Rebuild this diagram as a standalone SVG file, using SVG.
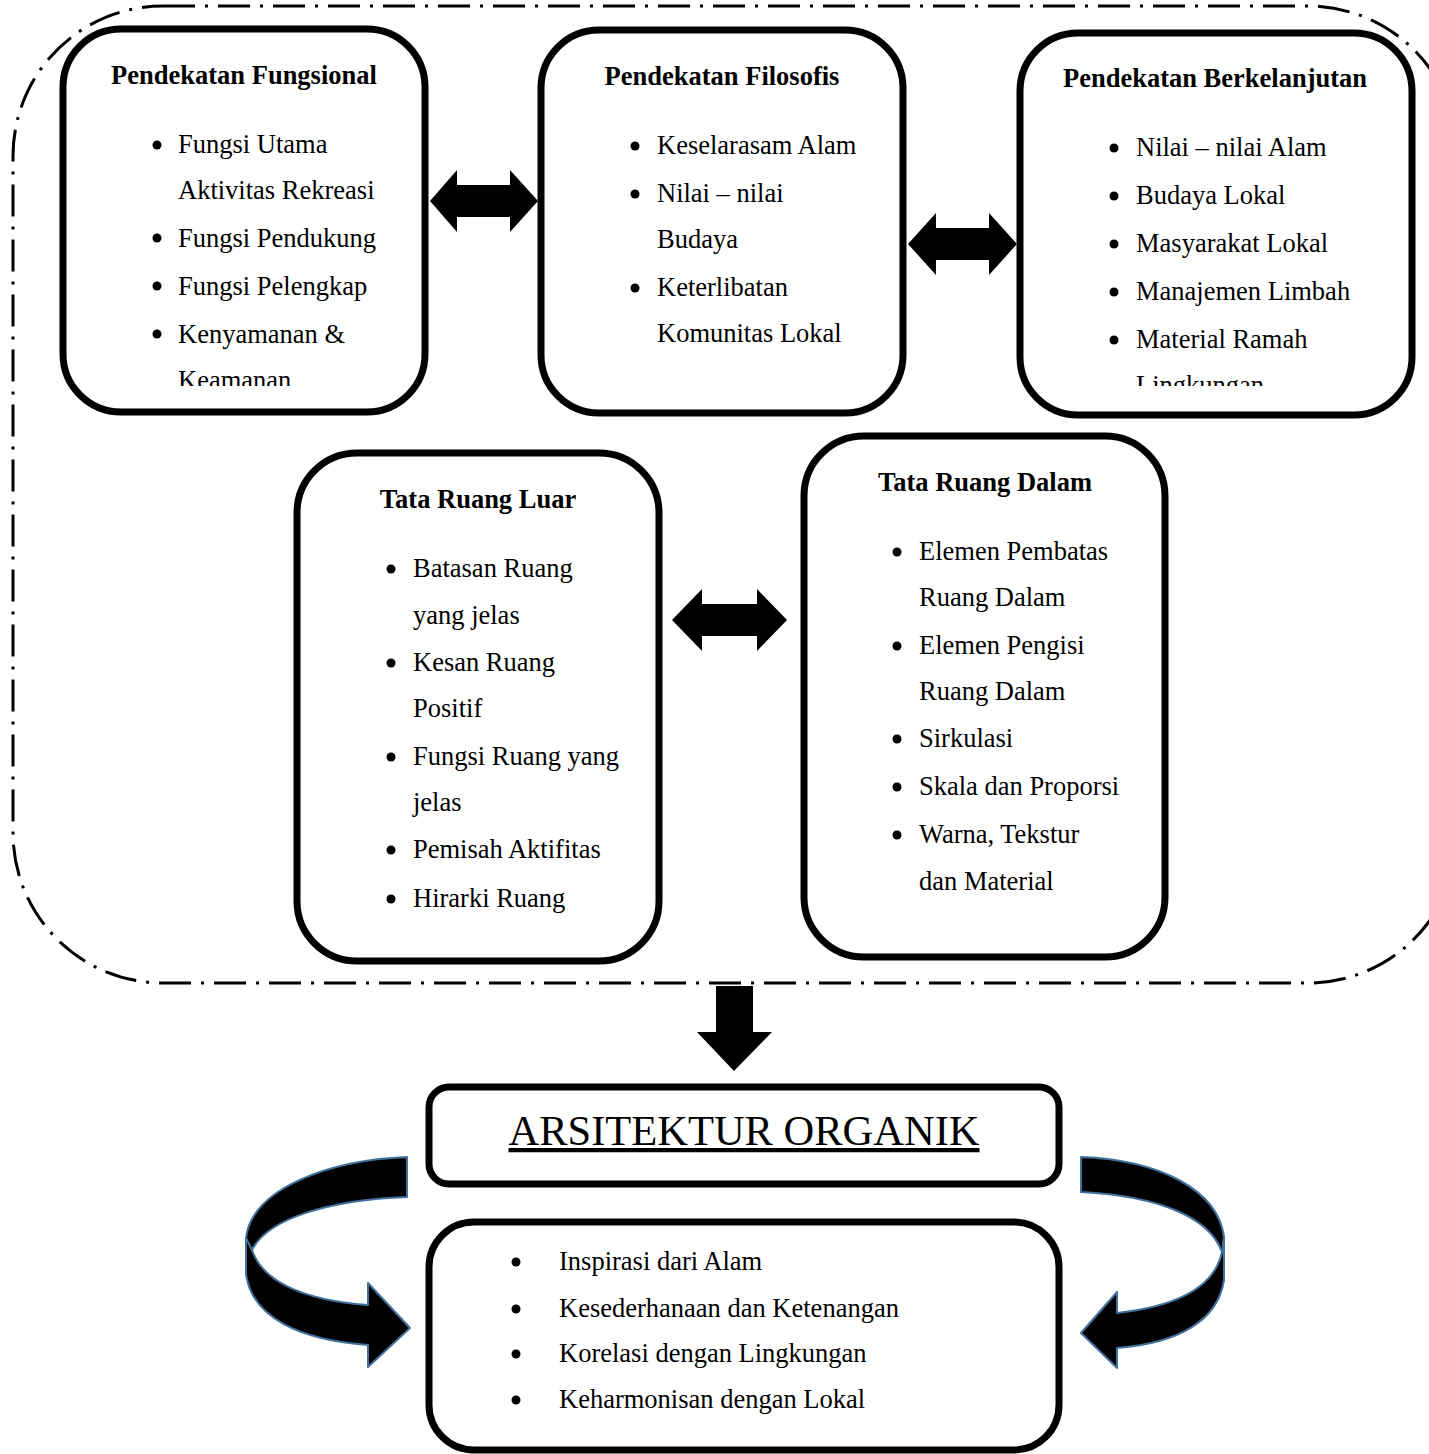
<svg xmlns="http://www.w3.org/2000/svg" width="1429" height="1454" viewBox="0 0 1429 1454">
<style>
.box{fill:#fff;stroke:#000;stroke-width:7}
.t{font-family:"Liberation Serif","Times New Roman",serif;font-size:26.5px;fill:#000}
.b{font-weight:bold;text-anchor:middle}
.arr{fill:#000}
.curve{fill:#000;stroke:#41719c;stroke-width:2;stroke-linejoin:round}
</style>
<defs>
<clipPath id="c1"><rect x="60" y="20" width="380" height="366"/></clipPath>
<clipPath id="c3"><rect x="1015" y="20" width="410" height="366"/></clipPath>
</defs>
<rect x="13" y="6" width="1445" height="977" rx="150" ry="150" fill="none" stroke="#000" stroke-width="3" stroke-dasharray="32 10 3 10"/>
<g id="connectors">
<polygon class="arr" points="430,201 457,170 457,185 510,185 510,170 538,201 510,232 510,217 457,217 457,232"/>
<polygon class="arr" points="908,244 936,213 936,228 989,228 989,213 1017,244 989,275 989,260 936,260 936,275"/>
<polygon class="arr" points="672,620 702,589 702,604 757,604 757,589 787,620 757,651 757,636 702,636 702,651"/>
<polygon class="arr" points="716,986 753,986 753,1032 772,1032 734,1071 697,1032 716,1032"/>
<path class="curve" d="M407,1157 C330,1160 252,1188 246,1238 L246,1274 C252,1318 300,1340 368,1345 L368,1367 L410,1328 L368,1283 L368,1305 C300,1300 262,1280 252,1250 C268,1218 330,1200 407,1197 Z"/>
<path d="M246,1238 L252,1250" stroke="#41719c" stroke-width="2" fill="none"/>
<path class="curve" d="M1081,1157 C1160,1160 1218,1190 1224,1237 L1224,1280 C1218,1320 1180,1343 1117,1348 L1117,1368 L1081,1333 L1117,1292 L1117,1313 C1180,1306 1215,1285 1222,1252 C1210,1218 1160,1196 1081,1192 Z"/>
<path d="M1224,1237 L1222,1252" stroke="#41719c" stroke-width="2" fill="none"/>
</g>
<g id="node-fungsional">
<rect class="box" x="63" y="29" width="362" height="383" rx="58"/>
<text class="t b" x="244" y="84">Pendekatan Fungsional</text>
<g clip-path="url(#c1)">
<circle cx="157" cy="145" r="4.5"/><text class="t" x="178" y="153">Fungsi Utama</text>
<text class="t" x="178" y="199">Aktivitas Rekreasi</text>
<circle cx="157" cy="238" r="4.5"/><text class="t" x="178" y="247">Fungsi Pendukung</text>
<circle cx="157" cy="286" r="4.5"/><text class="t" x="178" y="295">Fungsi Pelengkap</text>
<circle cx="157" cy="334" r="4.5"/><text class="t" x="178" y="343">Kenyamanan &amp;</text>
<text class="t" x="178" y="389">Keamanan</text>
</g>
</g>
<g id="node-filosofis">
<rect class="box" x="541" y="30" width="362" height="383" rx="58"/>
<text class="t b" x="722" y="85">Pendekatan Filosofis</text>
<circle cx="635" cy="146" r="4.5"/><text class="t" x="657" y="154">Keselarasam Alam</text>
<circle cx="635" cy="194" r="4.5"/><text class="t" x="657" y="202">Nilai – nilai</text>
<text class="t" x="657" y="248">Budaya</text>
<circle cx="635" cy="288" r="4.5"/><text class="t" x="657" y="296">Keterlibatan</text>
<text class="t" x="657" y="342">Komunitas Lokal</text>
</g>
<g id="node-berkelanjutan">
<rect class="box" x="1020" y="33" width="392" height="382" rx="58"/>
<text class="t b" x="1215" y="87">Pendekatan Berkelanjutan</text>
<g clip-path="url(#c3)">
<circle cx="1114" cy="148" r="4.5"/><text class="t" x="1136" y="156">Nilai – nilai Alam</text>
<circle cx="1114" cy="196" r="4.5"/><text class="t" x="1136" y="204">Budaya Lokal</text>
<circle cx="1114" cy="244" r="4.5"/><text class="t" x="1136" y="252">Masyarakat Lokal</text>
<circle cx="1114" cy="292" r="4.5"/><text class="t" x="1136" y="300">Manajemen Limbah</text>
<circle cx="1114" cy="340" r="4.5"/><text class="t" x="1136" y="348">Material Ramah</text>
<text class="t" x="1136" y="394">Lingkungan</text>
</g>
</g>
<g id="node-luar">
<rect class="box" x="297" y="453" width="362" height="508" rx="60"/>
<text class="t b" x="478" y="508">Tata Ruang Luar</text>
<circle cx="391" cy="569" r="4.5"/><text class="t" x="413" y="577">Batasan Ruang</text>
<text class="t" x="413" y="624">yang jelas</text>
<circle cx="391" cy="663" r="4.5"/><text class="t" x="413" y="671">Kesan Ruang</text>
<text class="t" x="413" y="717">Positif</text>
<circle cx="391" cy="757" r="4.5"/><text class="t" x="413" y="765">Fungsi Ruang yang</text>
<text class="t" x="413" y="811">jelas</text>
<circle cx="391" cy="850" r="4.5"/><text class="t" x="413" y="858">Pemisah Aktifitas</text>
<circle cx="391" cy="899" r="4.5"/><text class="t" x="413" y="907">Hirarki Ruang</text>
</g>
<g id="node-dalam">
<rect class="box" x="804" y="436" width="361" height="521" rx="60"/>
<text class="t b" x="985" y="491">Tata Ruang Dalam</text>
<circle cx="897" cy="552" r="4.5"/><text class="t" x="919" y="560">Elemen Pembatas</text>
<text class="t" x="919" y="606">Ruang Dalam</text>
<circle cx="897" cy="646" r="4.5"/><text class="t" x="919" y="654">Elemen Pengisi</text>
<text class="t" x="919" y="700">Ruang Dalam</text>
<circle cx="897" cy="739" r="4.5"/><text class="t" x="919" y="747">Sirkulasi</text>
<circle cx="897" cy="787" r="4.5"/><text class="t" x="919" y="795">Skala dan Proporsi</text>
<circle cx="897" cy="835" r="4.5"/><text class="t" x="919" y="843">Warna, Tekstur</text>
<text class="t" x="919" y="890">dan Material</text>
</g>
<g id="node-arsitektur">
<rect class="box" x="429" y="1087" width="630" height="97" rx="20"/>
<text class="t" x="744" y="1145" text-anchor="middle" text-decoration="underline" style="font-size:42.5px">ARSITEKTUR ORGANIK</text>
</g>
<g id="node-prinsip">
<rect class="box" x="429" y="1222" width="630" height="228" rx="45"/>
<circle cx="516" cy="1262" r="4.5"/><text class="t" x="559" y="1270">Inspirasi dari Alam</text>
<circle cx="516" cy="1309" r="4.5"/><text class="t" x="559" y="1317">Kesederhanaan dan Ketenangan</text>
<circle cx="516" cy="1354" r="4.5"/><text class="t" x="559" y="1362">Korelasi dengan Lingkungan</text>
<circle cx="516" cy="1400" r="4.5"/><text class="t" x="559" y="1408">Keharmonisan dengan Lokal</text>
</g>
</svg>
